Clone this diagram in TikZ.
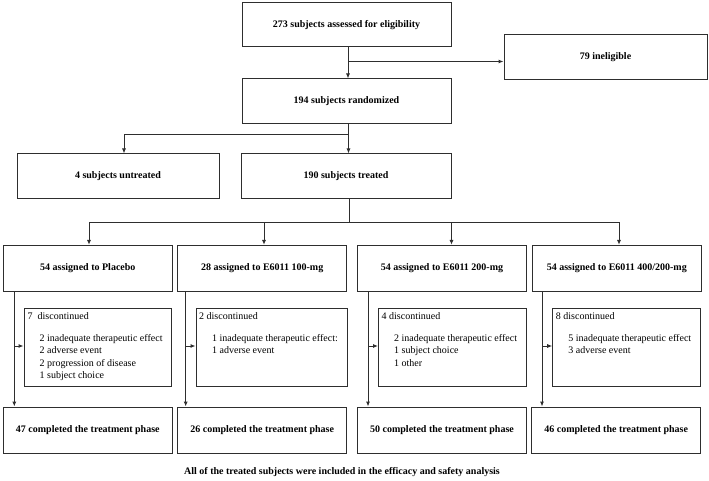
\documentclass[tikz,border=0pt]{standalone}
\usepackage{fontspec}
\setmainfont{Liberation Serif}
\usetikzlibrary{arrows.meta,calc}
\begin{document}
\begin{tikzpicture}[x=1pt,y=-1pt,
  box/.style={draw=black!82,line width=1pt,rectangle,inner sep=0pt,font=\fontsize{10}{12}\selectfont\bfseries},
  dbox/.style={draw=black!82,line width=1pt,rectangle,inner sep=0pt},
  ln/.style={draw=black!82,line width=1pt},
  arr/.style={ln,-{Latex[length=5pt,width=4.2pt]}},
  dtxt/.style={inner sep=0pt,font=\fontsize{10}{12.4}\selectfont,align=left}]
\useasboundingbox (0,0) rectangle (709,481);
% top
\node[box,minimum width=209pt,minimum height=44pt] (a) at (346.5,25) {273 subjects assessed for eligibility};
\node[box,minimum width=203pt,minimum height=45pt] (inel) at (605.5,57.5) {79 ineligible};
\node[box,minimum width=209pt,minimum height=45pt] (rand) at (346.5,101.5) {194 subjects randomized};
\node[box,minimum width=202pt,minimum height=45pt] (untr) at (118,176.5) {4 subjects untreated};
\node[box,minimum width=210pt,minimum height=45pt] (treat) at (346,176.5) {190 subjects treated};
% arms
\node[box,minimum width=169pt,minimum height=46pt] (p1) at (87.8,268.3) {54 assigned to Placebo};
\node[box,minimum width=169pt,minimum height=46pt] (p2) at (262.2,268.3) {28 assigned to E6011 100-mg};
\node[box,minimum width=169.4pt,minimum height=46pt] (p3) at (442,268.3) {54 assigned to E6011 200-mg};
\node[box,minimum width=169pt,minimum height=46pt] (p4) at (616.8,268.3) {54 assigned to E6011 400/200-mg};
% discontinued boxes
\node[dbox,minimum width=147pt,minimum height=78pt] (d1) at (97.5,347.2) {};
\node[dbox,minimum width=151pt,minimum height=78pt] (d2) at (271.5,347.2) {};
\node[dbox,minimum width=148pt,minimum height=78pt] (d3) at (452.5,347.2) {};
\node[dbox,minimum width=148pt,minimum height=78pt] (d4) at (626.7,347.2) {};
% discontinued texts
\node[dtxt,anchor=base west] (t1) at ($(d1.north west)+(4,12)$) {7~~discontinued};
\node[dtxt,anchor=north west] (i1) at ($(d1.north west)+(16,26.5)$) {2 inadequate therapeutic effect\\2 adverse event\\2 progression of disease\\1 subject choice};
\node[dtxt,anchor=base west] (t2) at ($(d2.north west)+(3.5,12)$) {2 discontinued};
\node[dtxt,anchor=north west] (i2) at ($(d2.north west)+(16.5,26.5)$) {1 inadequate therapeutic effect:\\1 adverse event};
\node[dtxt,anchor=base west] (t3) at ($(d3.north west)+(3.5,12)$) {4 discontinued};
\node[dtxt,anchor=north west] (i3) at ($(d3.north west)+(16,26.5)$) {2 inadequate therapeutic effect\\1 subject choice\\1 other};
\node[dtxt,anchor=base west] (t4) at ($(d4.north west)+(3.5,12)$) {8 discontinued};
\node[dtxt,anchor=north west] (i4) at ($(d4.north west)+(16,26.5)$) {5 inadequate therapeutic effect\\3 adverse event};
% completed
\node[box,minimum width=169pt,minimum height=46pt] (c1) at (87.8,430) {47 completed the treatment phase};
\node[box,minimum width=169pt,minimum height=46pt] (c2) at (262.2,430) {26 completed the treatment phase};
\node[box,minimum width=169.4pt,minimum height=46pt] (c3) at (442,430) {50 completed the treatment phase};
\node[box,minimum width=169pt,minimum height=46pt] (c4) at (616.2,430) {46 completed the treatment phase};
% footer
\node[inner sep=0pt,font=\fontsize{10}{12}\selectfont\bfseries] (foot) at (342,472.5) {All of the treated subjects were included in the efficacy and safety analysis};
% connectors top
\coordinate (a1) at ([xshift=1.5pt]a.south);
\draw[arr] (a1) -- (a1 |- rand.north);
\coordinate (br1) at ($(a1)+(0,14)$);
\draw[arr] (br1) -- (br1 -| inel.west);
\coordinate (r1) at ([xshift=2pt]rand.south);
\coordinate (r2) at ($(r1)+(0,10.3)$);
\draw[ln] (r1) -- (r2);
\draw[arr] (r2) -| ([xshift=6pt]untr.north);
\draw[arr] (r2) -- (r2 |- treat.north);
\coordinate (s1) at ([xshift=3pt]treat.south);
\coordinate (s2) at ($(s1)+(0,23.3)$);
\draw[ln] (s1) -- (s2);
\draw[arr] (s2) -| ([xshift=1.2pt]p1.north);
\draw[arr] (s2) -| ([xshift=1.8pt]p2.north);
\draw[arr] (s2) -| (p3.north -| treat.east);
\draw[arr] (s2) -| ([xshift=2.2pt]p4.north);
% verticals down to completed boxes
\foreach \p/\c/\d/\x in {p1/c1/d1/14.3,p2/c2/d2/185.7,p3/c3/d3/368,p4/c4/d4/542}{
  \coordinate (v\p) at (\x,291.3);
  \draw[arr] (v\p) -- (v\p |- \c.north);
  \coordinate (w\p) at (\x,346);
  \draw[arr] (w\p) -- (w\p -| \d.west);
}
\end{tikzpicture}
\end{document}
